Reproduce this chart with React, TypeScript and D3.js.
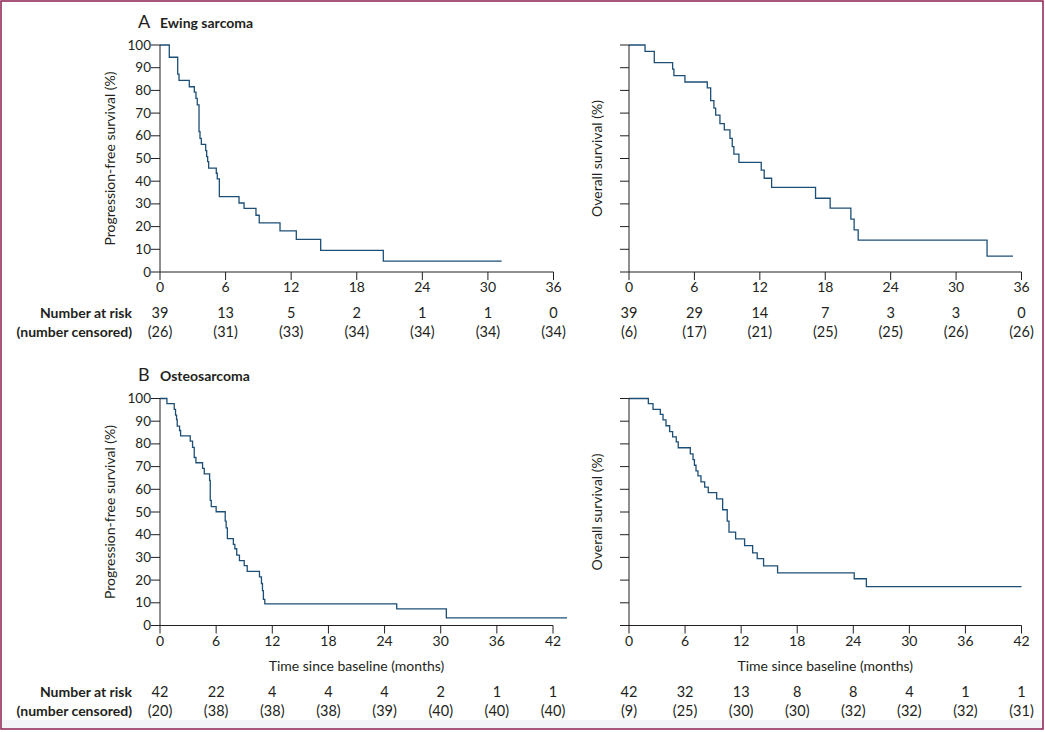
import React from 'react';
import * as d3 from 'd3';

// step curves: time (months) -> survival (%)
const ewingPfsTimes = [0, 0.85, 1.62, 1.74, 2.68, 3.14, 3.29, 3.41, 3.57, 3.66, 3.78, 4.18, 4.27, 4.36, 4.45, 5.15, 5.24, 5.43, 7.23, 7.69, 8.78, 9.08, 10.98, 12.47, 14.7, 20.43, 31.26];
const ewingPfsSurv = [100, 94.6, 87.2, 84.4, 81.6, 79.2, 76.5, 73.6, 61.8, 58.9, 56.2, 53.5, 50.8, 48.6, 45.8, 43.5, 41.0, 33.2, 30.4, 28.0, 25.0, 21.6, 18.1, 14.4, 9.5, 4.8, 4.8];

const ewingOsTimes = [0, 1.47, 2.32, 4.0, 4.12, 5.13, 7.18, 7.49, 7.79, 7.95, 8.34, 8.74, 9.26, 9.47, 9.62, 10.08, 12.13, 12.4, 13.08, 17.11, 18.45, 20.35, 20.65, 21.02, 32.84, 35.22];
const ewingOsSurv = [100, 97.2, 92.2, 89.4, 86.5, 83.7, 81.1, 75.5, 72.2, 69.1, 65.4, 62.6, 58.9, 55.2, 51.9, 48.3, 44.9, 41.3, 37.3, 32.5, 28.1, 23.3, 18.6, 14.0, 7.0, 7.0];

const osteoPfsTimes = [0, 0.74, 1.52, 1.66, 1.77, 1.84, 2.09, 2.2, 3.23, 3.48, 3.66, 3.84, 4.55, 4.73, 5.3, 5.37, 5.48, 6.0, 6.97, 7.07, 7.2, 7.84, 8.0, 8.2, 8.49, 9.0, 9.32, 10.63, 10.84, 10.95, 11.05, 11.2, 25.3, 30.6, 43.5];
const osteoPfsSurv = [100, 97.7, 95.2, 92.7, 90.7, 87.8, 85.9, 83.5, 81.2, 78.5, 74.0, 71.7, 69.2, 66.8, 63.9, 55.1, 52.4, 50.1, 46.0, 43.0, 38.3, 35.7, 33.8, 31.0, 28.6, 26.4, 23.8, 21.4, 18.5, 15.4, 11.5, 9.5, 7.3, 3.4, 3.4];

const osteoOsTimes = [0, 2.07, 2.57, 3.35, 3.64, 3.96, 4.35, 4.67, 5.06, 5.27, 6.56, 6.85, 7.0, 7.17, 7.38, 7.7, 8.1, 8.48, 9.38, 10.02, 10.51, 10.7, 11.41, 12.37, 13.23, 13.72, 14.4, 15.9, 24.1, 25.4, 42];
const osteoOsSurv = [100, 97.7, 95.2, 93.0, 90.6, 88.0, 85.4, 83.1, 80.9, 78.3, 75.6, 73.1, 70.6, 68.1, 65.9, 63.3, 61.0, 58.5, 55.8, 51.0, 46.0, 41.1, 38.2, 35.2, 32.0, 29.5, 26.3, 23.2, 20.6, 17.1, 17.1];

// number at risk tables
const ewingPfsRisk = [39, 13, 5, 2, 1, 1, 0];
const ewingPfsCens = [26, 31, 33, 34, 34, 34, 34];
const ewingOsRisk = [39, 29, 14, 7, 3, 3, 0];
const ewingOsCens = [6, 17, 21, 25, 25, 26, 26];
const osteoPfsRisk = [42, 22, 4, 4, 4, 2, 1, 1];
const osteoPfsCens = [20, 38, 38, 38, 39, 40, 40, 40];
const osteoOsRisk = [42, 32, 13, 8, 8, 4, 1, 1];
const osteoOsCens = [9, 25, 30, 30, 32, 32, 32, 31];

const ewingTicks = [0, 6, 12, 18, 24, 30, 36];
const osteoTicks = [0, 6, 12, 18, 24, 30, 36, 42];
const yTicks = [0, 10, 20, 30, 40, 50, 60, 70, 80, 90, 100];

const FONT = 'Lato, "Open Sans", sans-serif';
const INK = '#231f20';
const CURVE = '#1d4f76';

type PanelProps = {
  times: number[],
  surv: number[],
  ticks: number[],
  risk: number[],
  cens: number[],
  x0: number,
  x1: number,
  yTop: number,
  yBottom: number,
  yLabel: string,
  yLabelGap: number,
  showYLabels: boolean,
  xTitle?: string,
  riskY: number,
};

function Panel(props: PanelProps) {
  const {
    times, surv, ticks, risk, cens, x0, x1, yTop, yBottom,
    yLabel, yLabelGap, showYLabels, xTitle, riskY,
  } = props;

  const maxT = ticks[ticks.length - 1];
  const x = d3.scaleLinear().domain([0, maxT]).range([x0, x1]);
  const y = d3.scaleLinear().domain([0, 100]).range([yBottom, yTop]);

  const line = d3
    .line<number>()
    .x((t) => x(t))
    .y((_, i) => y(surv[i]))
    .curve(d3.curveStepAfter);

  const yMid = (yTop + yBottom) / 2;

  return (
    <g>
      <path d={line(times) || ''} fill="none" stroke={CURVE} strokeWidth={1.3} />
      <g className="axis" stroke={INK} strokeWidth={1}>
        <line x1={x0} x2={x0} y1={y(100)} y2={y(0)} />
        <line x1={x0} x2={x(maxT)} y1={y(0)} y2={y(0)} />
        {yTicks.map((t) => (
          <line key={'y' + t} x1={x0 - 9} x2={x0} y1={y(t)} y2={y(t)} />
        ))}
        {ticks.map((t) => (
          <line key={'x' + t} x1={x(t)} x2={x(t)} y1={y(0)} y2={y(0) + 8} />
        ))}
      </g>
      <g fontFamily={FONT} fill={INK}>
        {showYLabels && yTicks.map((t) => (
          <text key={'yl' + t} x={x0 - 9} y={y(t) + 4.5} fontSize={13.5} textAnchor="end">{t}</text>
        ))}
        {ticks.map((t) => (
          <text key={'xl' + t} x={x(t)} y={y(0) + 20} fontSize={14} textAnchor="middle">{t}</text>
        ))}
        <text
          transform={`translate(${x0 - yLabelGap},${yMid}) rotate(-90)`}
          textAnchor="middle"
          fontSize={14}
        >
          {yLabel}
        </text>
        {xTitle && (
          <text x={(x0 + x(maxT)) / 2} y={y(0) + 45} fontSize={14} textAnchor="middle">{xTitle}</text>
        )}
        {risk.map((r, i) => (
          <text key={'r' + i} x={x(ticks[i])} y={riskY} fontSize={14.5} textAnchor="middle">{r}</text>
        ))}
        {cens.map((c, i) => (
          <text key={'c' + i} x={x(ticks[i])} y={riskY + 19} fontSize={14.5} textAnchor="middle">({c})</text>
        ))}
      </g>
    </g>
  );
}

function RiskLabels({ y }: { y: number }) {
  return (
    <g fontFamily={FONT} fontSize={14} fontWeight="bold" fill={INK} textAnchor="end">
      <text x={132} y={y}>Number at risk</text>
      <text x={132} y={y + 19}>(number censored)</text>
    </g>
  );
}

function Heading({ letter, title, y }: { letter: string, title: string, y: number }) {
  return (
    <g fontFamily={FONT} fill={INK}>
      <text x={138} y={y} fontSize={18}>{letter}</text>
      <text x={160} y={y} fontSize={14} fontWeight="bold">{title}</text>
    </g>
  );
}

export default function App() {
  const width = 1045;
  const height = 732;

  return (
    <div style={{ position: 'absolute', left: 0, top: 0 }}>
      <svg width={width} height={height} viewBox={`0 0 ${width} ${height}`} style={{ display: 'block', background: '#fff' }}>
        <rect x={1} y={720} width={width - 2} height={8} fill="#f2f4f8" />
        <rect x={1} y={1} width={width - 3} height={728} fill="none" stroke="#8c1f52" strokeWidth={1.5} />

        <Heading letter="A" title="Ewing sarcoma" y={28} />
        <Panel
          times={ewingPfsTimes} surv={ewingPfsSurv} ticks={ewingTicks}
          risk={ewingPfsRisk} cens={ewingPfsCens}
          x0={160} x1={553.5} yTop={45} yBottom={272}
          yLabel="Progression-free survival (%)" yLabelGap={45} showYLabels riskY={318}
        />
        <Panel
          times={ewingOsTimes} surv={ewingOsSurv} ticks={ewingTicks}
          risk={ewingOsRisk} cens={ewingOsCens}
          x0={629} x1={1021.5} yTop={45} yBottom={272}
          yLabel="Overall survival (%)" yLabelGap={27} showYLabels={false} riskY={318}
        />
        <RiskLabels y={318} />

        <Heading letter="B" title="Osteosarcoma" y={381} />
        <Panel
          times={osteoPfsTimes} surv={osteoPfsSurv} ticks={osteoTicks}
          risk={osteoPfsRisk} cens={osteoPfsCens}
          x0={160} x1={553} yTop={398.5} yBottom={625.5}
          yLabel="Progression-free survival (%)" yLabelGap={45} showYLabels
          xTitle="Time since baseline (months)" riskY={697}
        />
        <Panel
          times={osteoOsTimes} surv={osteoOsSurv} ticks={osteoTicks}
          risk={osteoOsRisk} cens={osteoOsCens}
          x0={629} x1={1021.5} yTop={398.5} yBottom={625.5}
          yLabel="Overall survival (%)" yLabelGap={27} showYLabels={false}
          xTitle="Time since baseline (months)" riskY={697}
        />
        <RiskLabels y={697} />
      </svg>
    </div>
  );
}
